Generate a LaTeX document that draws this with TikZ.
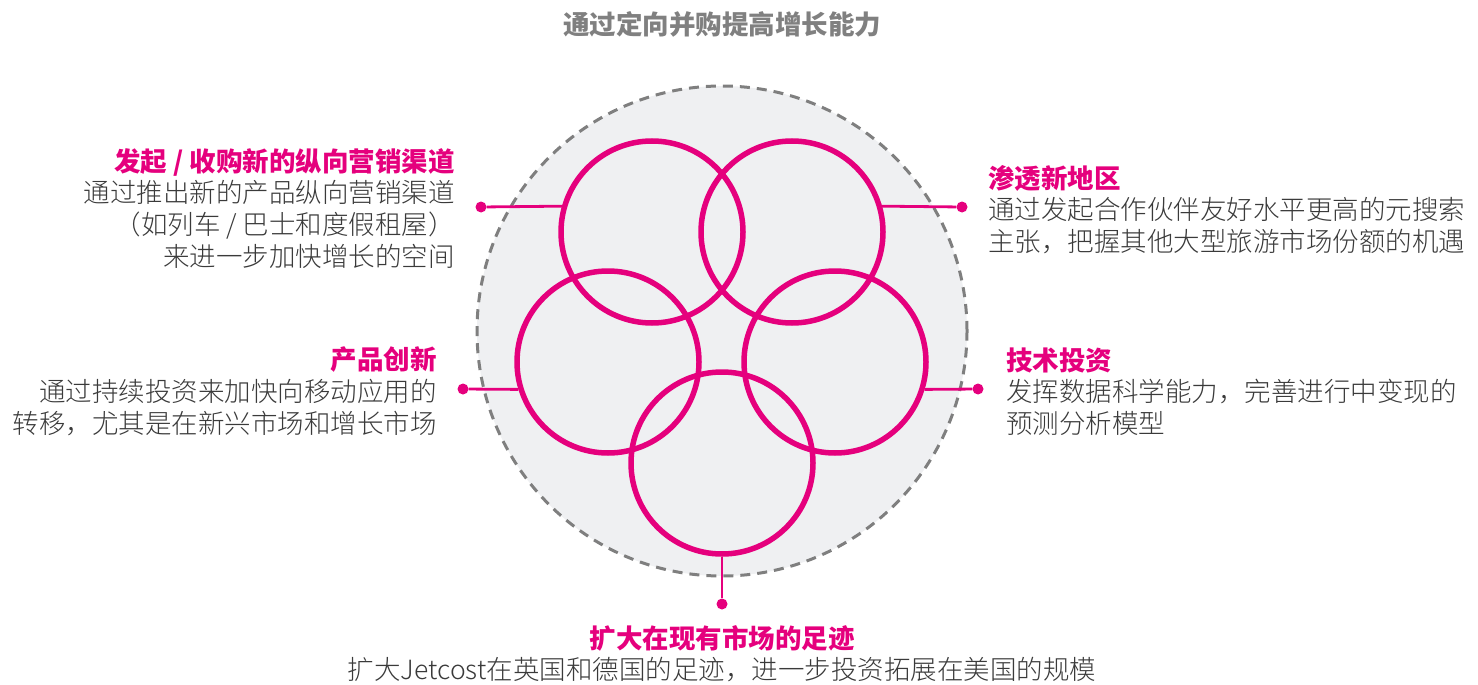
\documentclass[tikz,border=0pt]{standalone}
\usepackage{fontspec}
\newfontfamily\cjk{Noto Sans CJK SC}
\IfFontExistsTF{Noto Sans CJK SC Light}
  {\newfontfamily\cjklight{Noto Sans CJK SC Light}}
  {\newfontfamily\cjklight{Noto Sans CJK SC}}
\definecolor{brandpink}{HTML}{E5007D}
\definecolor{bodygray}{HTML}{3A3A3A}
\definecolor{titlegray}{HTML}{808080}
\definecolor{discfill}{HTML}{EFF0F2}
\definecolor{dashgray}{HTML}{7F7F7F}
\begin{document}
\begin{tikzpicture}[x=1pt, y=-1pt,
  ring/.style={circle, draw=brandpink, line width=5.5pt, minimum size=182pt, inner sep=0},
  dot/.style={circle, fill=brandpink, minimum size=11pt, inner sep=0},
  link/.style={draw=brandpink, line width=2.8pt},
  head/.style={font=\cjk\bfseries\fontsize{26.5}{32}\selectfont, text=brandpink, inner sep=0},
  body/.style={font=\cjklight\fontsize{26.5}{32}\selectfont, text=bodygray, inner sep=0}]
\useasboundingbox (0,0) rectangle (1478,685);
\node[font=\cjk\bfseries\fontsize{26.5}{32}\selectfont, text=titlegray, inner sep=0] (title) at (722,24){通过定向并购提高增长能力};
% grey disc
\node[circle, fill=discfill, draw=dashgray, line width=3pt, dash pattern=on 10pt off 7pt, minimum size=490pt] (disc) at (722,331){};
% five rings
\node[ring] (tlring) at (652,232){};
\node[ring] (trring) at (792,232){};
\node[ring] (lmring) at (608,362){};
\node[ring] (rmring) at (835,362){};
\node[ring] (btring) at (722,463){};
% dots and links
\node[dot] (tldot) at (481,207){};
\node[dot] (trdot) at (962,207){};
\node[dot] (lmdot) at (463,389){};
\node[dot] (rmdot) at (978,389){};
\node[dot] (btdot) at (722,604){};
\draw[link](tldot) -- (tlring.164);
\draw[link](trdot) -- (trring.16);
\draw[link](lmdot) -- (lmring.197);
\draw[link](rmdot) -- (rmring.-17);
\draw[link](btdot) -- (btring.south);
% labels
\node[head, anchor=east] (tlhead) at (455,162){发起 / 收购新的纵向营销渠道};
\node[body, align=right, anchor=north east] (tlbody) at (455,180){通过推出新的产品纵向营销渠道\\（如列车 / 巴士和度假租屋）\\来进一步加快增长的空间};
\node[head, anchor=west] (trhead) at (988,178){渗透新地区};
\node[body, align=left, anchor=north west] (trbody) at (988,197){通过发起合作伙伴友好水平更高的元搜索\\主张，把握其他大型旅游市场份额的机遇};
\node[head, anchor=east] (lmhead) at (437,360){产品创新};
\node[body, align=right, anchor=north east] (lmbody) at (437,379){通过持续投资来加快向移动应用的\\转移，尤其是在新兴市场和增长市场};
\node[head, anchor=west] (rmhead) at (1006,360){技术投资};
\node[body, align=left, anchor=north west] (rmbody) at (1006,379){发挥数据科学能力，完善进行中变现的\\预测分析模型};
\node[head] (bthead) at (722,638){扩大在现有市场的足迹};
\node[body, anchor=north] (btbody) at (722,657){扩大Jetcost在英国和德国的足迹，进一步投资拓展在美国的规模};
\end{tikzpicture}
\end{document}
